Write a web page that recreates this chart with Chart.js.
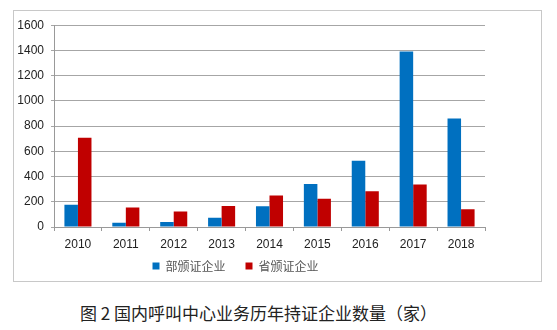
<!DOCTYPE html>
<html>
<head>
<meta charset="utf-8">
<script src="https://cdn.jsdelivr.net/npm/chart.js@4/dist/chart.umd.min.js"></script>
<style>
  body { margin: 0; background: #fff; width: 557px; height: 330px; position: relative; overflow: hidden; }
  #box { position: absolute; left: 13px; top: 10px; width: 527px; height: 270px; border: 1px solid #c8c8c8; }
  #title { position: absolute; left: 0; width: 517px; top: 300px; text-align: center;
           font: 17px "Noto Sans CJK SC", sans-serif; color: #222; }
</style>
</head>
<body>
<div id="box"><canvas id="chart" width="527" height="270"></canvas></div>
<div id="title">图 2 国内呼叫中心业务历年持证企业数量（家）</div>
<script>
// values
const YEARS = ['2010','2011','2012','2013','2014','2015','2016','2017','2018'];
const MINISTRY = [177, 34, 39, 73, 164, 341, 525, 1392, 861];   // 部颁证企业
const PROVINCE = [708, 154, 122, 166, 250, 224, 283, 336, 141]; // 省颁证企业
const Y_MAX = 1600;
const Y_STEP = 200;

const tickFont = { family: '"Liberation Sans", sans-serif', size: 12 };

// legend sits closer to the axis and a bit left of centre in the original
const nudgeLegend = {
  id: 'nudgeLegend',
  afterLayout(chart) {
    const lg = chart.legend;
    if (!lg) return;
    lg.top -= 11; lg.bottom -= 11;
    lg.left -= 14; lg.right -= 14;
  }
};

new Chart(document.getElementById('chart'), {
  type: 'bar',
  data: {
    labels: YEARS,
    datasets: [
      { label: '部颁证企业', data: MINISTRY, backgroundColor: '#0070C0' },
      { label: '省颁证企业', data: PROVINCE, backgroundColor: '#C00000' }
    ]
  },
  plugins: [nudgeLegend],
  options: {
    responsive: false,
    animation: false,
    categoryPercentage: 0.565,
    barPercentage: 1,
    layout: { padding: { left: 0, right: 56, top: 10, bottom: -12 } },
    plugins: {
      tooltip: { enabled: false },
      legend: {
        position: 'bottom',
        labels: {
          usePointStyle: true, pointStyle: 'rect', boxWidth: 7, boxHeight: 7,
          padding: 20, color: '#555',
          font: { family: '"Noto Sans CJK SC", sans-serif', size: 12 }
        }
      }
    },
    scales: {
      x: {
        grid: { display: true, drawOnChartArea: false, offset: true, tickLength: 4, color: '#999' },
        border: { color: '#999' },
        ticks: { color: '#222', font: tickFont, padding: 6 },
        afterFit: (s) => { s.height = 24; }
      },
      y: {
        min: 0, max: Y_MAX,
        ticks: { stepSize: Y_STEP, color: '#222', font: tickFont, padding: 7, callback: (v) => String(v) },
        grid: { color: '#a6a6a6', tickLength: 3 },
        border: { color: '#999' },
        afterFit: (s) => { s.width = 40; }
      }
    }
  }
});
</script>
</body>
</html>
